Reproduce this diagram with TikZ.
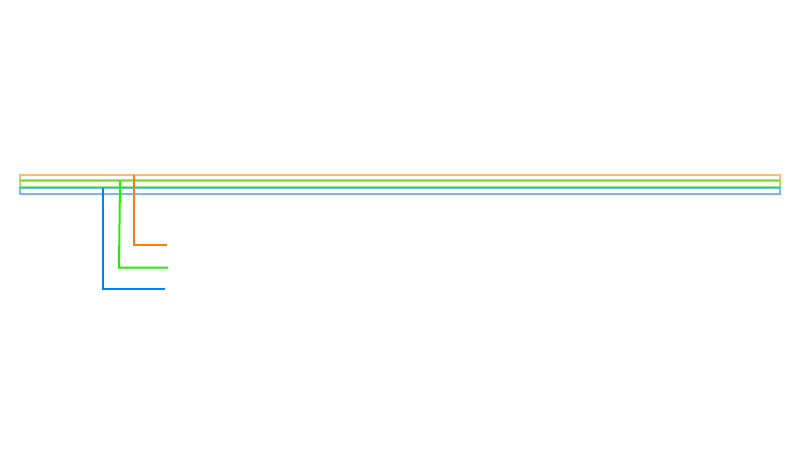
\documentclass[tikz,border=0pt]{standalone}
\begin{document}
\begin{tikzpicture}[x=1pt,y=-1pt,
  band/.style={draw=#1, draw opacity=0.55, line width=2pt},
  lead/.style={draw=#1, line width=2pt}]
\definecolor{orA}{HTML}{FF7F00}
\definecolor{grA}{HTML}{22EE00}
\definecolor{blA}{HTML}{0080FF}
\useasboundingbox (0,0) rectangle (800,450);
\coordinate (o1) at (20,174.5);
\coordinate (o2) at (780,180);
\coordinate (g1) at (20,181);
\coordinate (g2) at (780,187);
\coordinate (b1) at (20,187.5);
\coordinate (b2) at (780,193.5);
\draw[band=orA] (o1) rectangle (o2);
\draw[band=grA] (g1) rectangle (g2);
\draw[band=blA] (b1) rectangle (b2);
\coordinate (oa) at (134,174.5);
\coordinate (ob) at (134,244.5);
\coordinate (oc) at (167,244.5);
\coordinate (ga) at (120,181);
\coordinate (gb) at (119,267.5);
\coordinate (gc) at (168,267.5);
\coordinate (ba) at (103,188);
\coordinate (bb) at (103,288.5);
\coordinate (bc) at (165,288.5);
\draw[lead=orA] (oa) -- (ob) -- (oc);
\draw[lead=grA] (ga) -- (gb) -- (gc);
\draw[lead=blA] (ba) -- (bb) -- (bc);
\end{tikzpicture}
\end{document}
